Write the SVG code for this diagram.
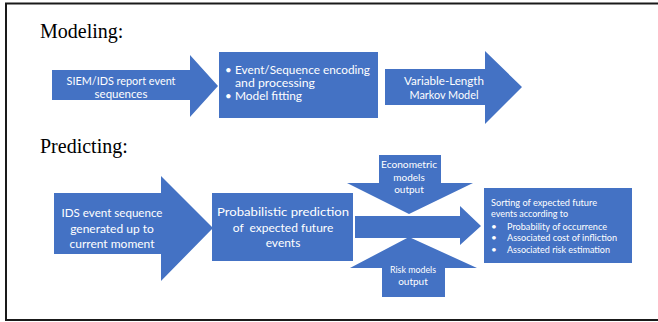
<svg xmlns="http://www.w3.org/2000/svg" width="658" height="322" viewBox="0 0 658 322">
<style>
.shape{fill:#4472C4;}
.t{font-family:Lato,"Liberation Sans",sans-serif;fill:#ffffff;}
.c{text-anchor:middle;}
.title{font-family:"Liberation Serif",serif;font-size:20px;fill:#000000;}
.frame{fill:none;stroke:#1a1a1a;stroke-width:2;}
</style>
<rect width="658" height="322" fill="#ffffff"/>
<path class="frame" d="M658,3.5 H6 V320 H658"/>
<text class="title" x="40" y="38">Modeling:</text>
<text class="title" x="40" y="153">Predicting:</text>

<g id="siem">
<polygon class="shape" points="52,70 190,70 190,55 218,86 190,117 190,100 52,100"/>
<text class="t c" font-size="11.5" x="121" y="85" textLength="109" lengthAdjust="spacingAndGlyphs">SIEM/IDS report event</text>
<text class="t c" font-size="11.5" x="121" y="98">sequences</text>
</g>

<g id="encoding">
<rect class="shape" x="219" y="52" width="159" height="66"/>
<text class="t" font-size="11.5" x="225" y="74">•</text>
<text class="t" font-size="11.5" x="235" y="74" textLength="135" lengthAdjust="spacingAndGlyphs">Event/Sequence encoding</text>
<text class="t" font-size="11.5" x="235" y="87" textLength="80" lengthAdjust="spacingAndGlyphs">and processing</text>
<text class="t" font-size="11.5" x="225" y="100">•</text>
<text class="t" font-size="11.5" x="235" y="100" textLength="67" lengthAdjust="spacingAndGlyphs">Model fitting</text>
</g>

<g id="vlmm">
<polygon class="shape" points="385,69 485,69 485,51 522,87 485,124 485,105 385,105"/>
<text class="t c" font-size="11.5" x="444" y="85" textLength="80" lengthAdjust="spacingAndGlyphs">Variable-Length</text>
<text class="t c" font-size="11.5" x="444" y="99" textLength="69" lengthAdjust="spacingAndGlyphs">Markov Model</text>
</g>

<g id="ids">
<polygon class="shape" points="54,193 161,193 161,176 213,228 161,281 161,254 54,254"/>
<text class="t c" font-size="12" x="112" y="217" textLength="101" lengthAdjust="spacingAndGlyphs">IDS event sequence</text>
<text class="t c" font-size="12" x="112" y="233">generated up to</text>
<text class="t c" font-size="12" x="112" y="248">current moment</text>
</g>

<g id="prediction">
<rect class="shape" x="212" y="193" width="141" height="68"/>
<text class="t c" font-size="12" x="283" y="216" textLength="132" lengthAdjust="spacingAndGlyphs">Probabilistic prediction</text>
<text class="t c" font-size="12" x="283" y="232" xml:space="preserve">of  expected future</text>
<text class="t c" font-size="12" x="283" y="247">events</text>
</g>

<g id="connectors">
<polygon class="shape" points="355,216 460,216 460,206 481,226 460,245 460,238 355,238"/>
</g>

<g id="econometric">
<polygon class="shape" points="379,155 441,155 441,183 473,183 409,214 347,183 379,183"/>
<text class="t c" font-size="10" x="409" y="168" textLength="56" lengthAdjust="spacingAndGlyphs">Econometric</text>
<text class="t c" font-size="10" x="409" y="181">models</text>
<text class="t c" font-size="10" x="409" y="193">output</text>
</g>

<g id="risk">
<polygon class="shape" points="409,237 477,268 445,268 445,297 382,297 382,268 350,268"/>
<text class="t c" font-size="10" x="413" y="273" textLength="46" lengthAdjust="spacingAndGlyphs">Risk models</text>
<text class="t c" font-size="10" x="413" y="285">output</text>
</g>

<g id="sorting">
<rect class="shape" x="484" y="188" width="148" height="75"/>
<text class="t" font-size="10" x="491" y="206" textLength="106" lengthAdjust="spacingAndGlyphs">Sorting of expected future</text>
<text class="t" font-size="10" x="491" y="217" textLength="77" lengthAdjust="spacingAndGlyphs">events according to</text>
<text class="t" font-size="10" x="491" y="230">•</text>
<text class="t" font-size="10" x="507" y="230" textLength="100" lengthAdjust="spacingAndGlyphs">Probability of occurrence</text>
<text class="t" font-size="10" x="491" y="241">•</text>
<text class="t" font-size="10" x="507" y="241" textLength="110" lengthAdjust="spacingAndGlyphs">Associated cost of infliction</text>
<text class="t" font-size="10" x="491" y="253">•</text>
<text class="t" font-size="10" x="507" y="253" textLength="103" lengthAdjust="spacingAndGlyphs">Associated risk estimation</text>
</g>
</svg>
